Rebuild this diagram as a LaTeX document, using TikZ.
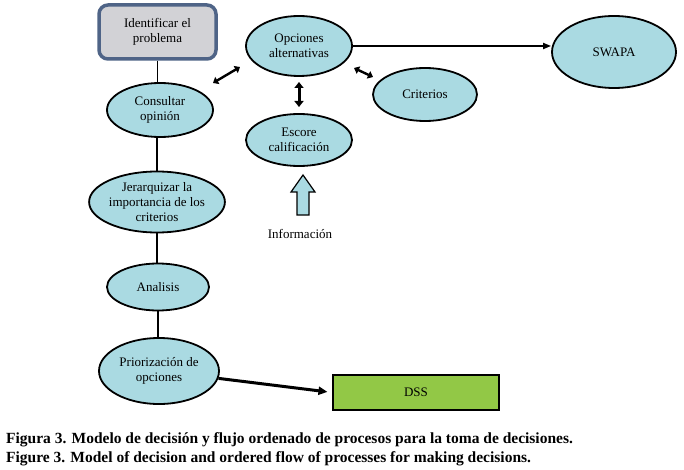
\documentclass[tikz,border=0pt]{standalone}
\usepackage{fontspec}
\setmainfont{Liberation Serif}
\usetikzlibrary{shapes.geometric,arrows.meta,calc}
\definecolor{ellfill}{RGB}{170,218,226}
\definecolor{boxfill}{RGB}{210,210,214}
\definecolor{boxborder}{RGB}{79,100,135}
\definecolor{dssfill}{RGB}{146,200,70}
\begin{document}
\begin{tikzpicture}[x=1pt,y=-1pt,
  ell/.style={ellipse, draw=black, line width=1.8pt, fill=ellfill, inner sep=0pt,
    align=center, font=\fontsize{13}{15}\selectfont},
  topbox/.style={rectangle, rounded corners=9pt, draw=boxborder, line width=3.5pt,
    fill=boxfill, inner sep=0pt, align=center, font=\fontsize{13}{15}\selectfont},
  dssbox/.style={rectangle, draw=black, line width=1.2pt, fill=dssfill, inner sep=0pt,
    font=\fontsize{13}{15}\selectfont},
  conn/.style={line width=1.8pt},
  dbl/.style={line width=2.4pt, {Triangle[length=5pt,width=8pt]}-{Triangle[length=5pt,width=8pt]}},
  caption/.style={anchor=base west, inner sep=0pt, font=\fontsize{15.5}{19}\selectfont\bfseries}
]
\useasboundingbox[fill=white] (0,0) rectangle (684,470);

% left column
\node[topbox, minimum width=117pt, minimum height=54pt] (idf) at (157.5,32) {Identificar el\\problema};
\node[ell, minimum width=106pt, minimum height=54pt] (cons) at (160,110) {Consultar\\opinión};
\node[ell, minimum width=124pt, minimum height=61pt] (jer) at (157,202) {Jerarquizar la\\importancia de los\\criterios};
\node[ell, minimum width=102pt, minimum height=47pt] (ana) at (158,287) {Analisis};
\node[ell, minimum width=120pt, minimum height=66pt] (pri) at (159,371) {Priorización de\\opciones};
\node[dssbox, minimum width=166pt, minimum height=35pt] (dss) at (416,392.5) {DSS};

% right part
\node[ell, minimum width=106pt, minimum height=60pt] (opc) at (299,46) {Opciones\\alternativas};
\node[ell, minimum width=124pt, minimum height=72pt] (swapa) at (614,52) {SWAPA};
\node[ell, minimum width=104pt, minimum height=53pt] (crit) at (425,94.5) {Criterios};
\node[ell, minimum width=106pt, minimum height=52pt] (esc) at (299,140) {Escore\\calificación};
\node[font=\fontsize{13}{15}\selectfont, inner sep=0pt] (info) at (300,234) {Información};

% vertical connectors
\draw[conn] (idf.south) -- (idf.south |- cons.north);
\draw[conn] (cons.south -| jer.north) -- (jer.north);
\draw[conn] (jer.south) -- (jer.south |- ana.north);
\draw[conn] (ana.south) -- (ana.south |- pri.north);

% arrows
\draw[line width=1.8pt, -{Triangle[length=8pt,width=6pt]}] (opc.east) -- (opc.east -| swapa.west);
\draw[line width=3pt, -{Triangle[length=9pt,width=8pt]}, shorten >=5pt] (pri) -- (dss.west);

% double arrows
\coordinate (d1a) at (213,83); \coordinate (d1b) at (240,67);
\coordinate (d2a) at (354,68); \coordinate (d2b) at (373,77);
\coordinate (d3a) at (299,82); \coordinate (d3b) at (299,107);
\draw[dbl] (d1a) -- (d1b);
\draw[dbl] (d2a) -- (d2b);
\draw[line width=3pt, {Triangle[length=6pt,width=9pt]}-{Triangle[length=6pt,width=9pt]}] (d3a) -- (d3b);

% block arrow (Información)
\coordinate (ba) at (303,215);
\draw[line width=1.2pt, fill=ellfill, line join=miter]
  ($(ba)+(-6,0)$) -- ++(0,-23) -- ++(-6,0) -- ($(ba)+(0,-40)$) -- ($(ba)+(12,-23)$) -- ++(-6,0) -- ($(ba)+(6,0)$) -- cycle;

% caption
\node[caption] (cap1) at (6,443) {Figura 3. Modelo de decisión y flujo ordenado de procesos para la toma de decisiones.};
\node[caption] (cap2) at (6,462) {Figure 3. Model of decision and ordered flow of processes for making decisions.};
\end{tikzpicture}
\end{document}
